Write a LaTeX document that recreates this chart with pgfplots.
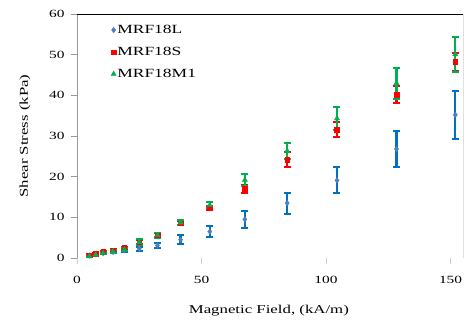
\documentclass[border=0pt]{standalone}
\usepackage{fontspec}
\setmainfont{Liberation Serif}[FakeStretch=1.4]
\usepackage{pgfplots}
\pgfplotsset{compat=1.18}
\definecolor{mblue}{HTML}{4F81BD}
\definecolor{eblue}{HTML}{0070C0}
\definecolor{mred}{HTML}{FF0000}
\definecolor{mgreen}{HTML}{00B050}
\begin{document}
\begin{tikzpicture}
\useasboundingbox (-77pt,-64pt) rectangle (391pt,258pt);
\begin{axis}[
  scale only axis, width=386pt, height=244pt,
  at={(0,0)}, anchor=south west,
  xmin=0, xmax=155, ymin=0, ymax=60,
  xtick={0,50,100,150}, ytick={0,10,...,60},
  axis lines=left, axis line style={-},
  y axis line style={draw=gray!80, line width=0.9pt},
  x axis line style={draw=none},
  tick align=outside,
  major tick length=6pt,
  ytick style={draw=gray!80, line width=0.8pt},
  xtick style={draw=gray!40, line width=0.6pt},
  /pgf/number format/assume math mode=true,
  ticklabel style={font=\fontsize{11}{13}\selectfont},
  xticklabel style={anchor=center, yshift=-16pt},
  yticklabel style={anchor=east, xshift=-3pt},
  every axis x label/.style={at={(axis description cs:0.497,-0.217)}, anchor=center, font=\fontsize{12}{14}\selectfont},
  every axis y label/.style={at={(axis description cs:-0.135,0.5)}, rotate=90, anchor=center, font=\fontsize{12}{14}\selectfont},
  xlabel={Magnetic Field, (kA/m)},
  ylabel={Shear Stress (kPa)},
  legend style={at={(rel axis cs:0.08,0.97)}, anchor=north west, draw=none, fill=none,
    font=\fontsize{12.5}{14}\selectfont, row sep=9pt,
    nodes={inner sep=1pt, text height=9pt, text depth=2pt}},
  legend cell align=left,
  legend image code/.code={\draw[#1] plot coordinates {(0.15cm,0cm)};},
]
\addplot[only marks, mark=diamond*, mark size=2.8pt, color=mblue,
  /pgfplots/error bars/error bar style={draw=eblue, line width=2.2pt, solid},
  error bars/.cd, y dir=both, y explicit,
  error mark options={rotate=90, mark size=3.5pt, line width=2pt, color=eblue}]
coordinates {
(5,0.6) +- (0,0.2)
(7.5,0.9) +- (0,0.2)
(10.5,1.2) +- (0,0.2)
(14.5,1.5) +- (0,0.3)
(19,1.9) +- (0,0.4)
(25,2.3) +- (0,0.5)
(32.3,3.1) +- (0,0.6)
(41.6,4.5) +- (0,1.1)
(53.3,6.5) +- (0,1.4)
(67.4,9.5) +- (0,2.0)
(84.4,13.5) +- (0,2.6)
(104.4,19.1) +- (0,3.2)
(128.3,26.8) +- (0,4.4)
(151.9,35.2) +- (0,5.9)
};
\addlegendentry{MRF18L}
\addplot[only marks, mark=square*, mark size=2.3pt, color=mred,
  /pgfplots/error bars/error bar style={draw=mred, line width=2.2pt, solid},
  error bars/.cd, y dir=both, y explicit,
  error mark options={rotate=90, mark size=3.5pt, line width=2pt, color=mred}]
coordinates {
(5,0.7) +- (0,0.2)
(7.5,1.1) +- (0,0.2)
(10.5,1.5) +- (0,0.2)
(14.5,1.9) +- (0,0.3)
(19,2.5) +- (0,0.3)
(25,3.9) +- (0,0.5)
(32.3,5.6) +- (0,0.5)
(41.6,8.6) +- (0,0.5)
(53.3,12.3) +- (0,0.6)
(67.4,17.0) +- (0,0.9)
(84.4,24.2) +- (0,1.8)
(104.4,31.6) +- (0,1.8)
(128.3,40.2) +- (0,2.0)
(151.9,48.2) +- (0,2.2)
};
\addlegendentry{MRF18S}
\addplot[only marks, mark=triangle*, mark size=3pt, color=mgreen,
  /pgfplots/error bars/error bar style={draw=mgreen, line width=2.2pt, solid},
  error bars/.cd, y dir=both, y explicit,
  error mark options={rotate=90, mark size=3.5pt, line width=2pt, color=mgreen}]
coordinates {
(5,0.4) +- (0,0.2)
(7.5,0.8) +- (0,0.2)
(10.5,1.2) +- (0,0.2)
(14.5,1.6) +- (0,0.3)
(19,2.1) +- (0,0.3)
(25,3.9) +- (0,0.7)
(32.3,5.6) +- (0,0.6)
(41.6,8.7) +- (0,0.6)
(53.3,13.0) +- (0,0.8)
(67.4,19.2) +- (0,1.4)
(84.4,26.3) +- (0,2.0)
(104.4,34.3) +- (0,2.8)
(128.3,43.0) +- (0,3.8)
(151.9,50.1) +- (0,4.3)
};
\addlegendentry{MRF18M1}
\draw[black, line width=0.9pt] (rel axis cs:0,1) -- (rel axis cs:1,1) -- (rel axis cs:1,0);
\end{axis}
\end{tikzpicture}
\end{document}
